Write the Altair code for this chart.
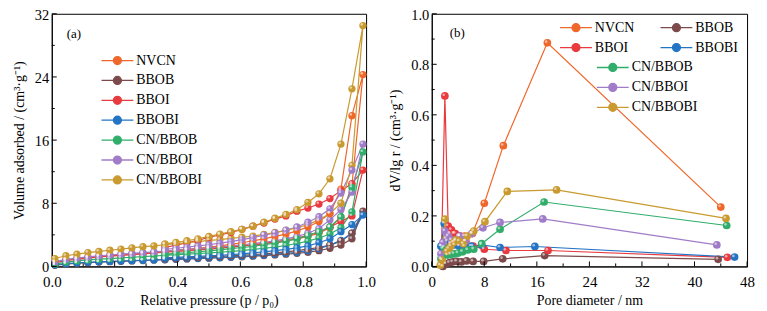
import altair as alt
import pandas as pd

FONT = "Liberation Serif"

series = ["NVCN", "BBOB", "BBOI", "BBOBI", "CN/BBOB", "CN/BBOI", "CN/BBOBI"]
colors = ["#F0672B", "#7C4A4B", "#E83A3F", "#2474C4", "#30AD6B", "#A07CC8", "#C99A30"]

# ---------------- (a) N2 isotherms ----------------
p_ads = [0.01, 0.045, 0.08, 0.115, 0.15, 0.185, 0.22, 0.255, 0.29, 0.325, 0.36, 0.395,
         0.43, 0.465, 0.5, 0.535, 0.57, 0.605, 0.64, 0.675, 0.71, 0.745, 0.78, 0.815,
         0.85, 0.885, 0.92, 0.955, 0.99]
p_des = [0.955, 0.92, 0.885, 0.85, 0.815, 0.78, 0.745, 0.71, 0.675, 0.64, 0.605, 0.57,
         0.535, 0.5, 0.465, 0.43, 0.395, 0.36]

ads_NVCN = [0.55, 0.8, 0.95, 1.1, 1.25, 1.35, 1.45, 1.55, 1.65, 1.75, 1.85, 1.95, 2.05, 2.15,
            2.25, 2.35, 2.5, 2.6, 2.75, 2.9, 3.05, 3.25, 3.5, 3.8, 4.2, 4.9, 6.2, 10.3, 24.3]
des_NVCN = [19.1, 9.8, 6.7, 5.7, 5.0, 4.5, 4.1, 3.8, 3.5, 3.25, 3.0, 2.8, 2.6, 2.45, 2.3, 2.15,
            2.05, 1.95]
ads_BBOB = [0.15, 0.3, 0.4, 0.48, 0.55, 0.6, 0.65, 0.7, 0.75, 0.8, 0.85, 0.9, 0.95, 1.0, 1.05,
            1.1, 1.15, 1.22, 1.3, 1.38, 1.46, 1.55, 1.66, 1.8, 2.0, 2.3, 2.7, 3.5, 7.0]
des_BBOB = [4.2, 3.2, 2.7, 2.4, 2.2, 2.0, 1.85, 1.72, 1.6, 1.5, 1.42, 1.34, 1.27, 1.2, 1.14,
            1.08, 1.02, 0.97]
ads_BBOI = [0.45, 0.75, 0.9, 1.05, 1.2, 1.3, 1.4, 1.5, 1.6, 1.7, 1.8, 1.9, 2.0, 2.1, 2.2, 2.3,
            2.45, 2.6, 2.75, 2.9, 3.1, 3.35, 3.6, 3.95, 4.4, 5.0, 5.7, 6.4, 12.2]
des_BBOI = [10.5, 9.6, 8.6, 7.9, 7.4, 7.0, 6.4, 6.0, 5.5, 5.1, 4.7, 4.3, 4.0, 3.7, 3.3, 3.0,
            2.7, 2.4]
ads_BBOBI = [0.2, 0.35, 0.45, 0.52, 0.58, 0.63, 0.68, 0.73, 0.78, 0.83, 0.88, 0.93, 0.98, 1.03,
             1.08, 1.13, 1.2, 1.27, 1.35, 1.45, 1.55, 1.67, 1.8, 2.0, 2.25, 2.7, 3.3, 4.2, 6.5]
des_BBOBI = [5.3, 4.4, 3.5, 3.0, 2.6, 2.35, 2.15, 2.0, 1.85, 1.72, 1.6, 1.5, 1.42, 1.34, 1.27,
             1.2, 1.14, 1.08]
ads_CNBBOB = [0.3, 0.55, 0.7, 0.82, 0.92, 1.0, 1.08, 1.16, 1.24, 1.32, 1.4, 1.48, 1.56, 1.64,
              1.72, 1.8, 1.9, 2.0, 2.15, 2.3, 2.45, 2.65, 2.9, 3.2, 3.6, 4.1, 4.9, 6.9, 14.5]
des_CNBBOB = [10.0, 6.3, 5.0, 4.4, 3.9, 3.5, 3.2, 2.95, 2.75, 2.55, 2.4, 2.25, 2.1, 1.98, 1.86,
              1.75, 1.65, 1.55]
ads_CNBBOI = [0.6, 0.9, 1.05, 1.2, 1.35, 1.45, 1.55, 1.65, 1.75, 1.85, 1.95, 2.05, 2.15, 2.25,
              2.35, 2.45, 2.6, 2.75, 2.9, 3.05, 3.25, 3.5, 3.8, 4.2, 4.8, 5.9, 7.2, 9.4, 15.5]
des_CNBBOI = [12.2, 9.3, 7.3, 6.3, 5.6, 5.0, 4.6, 4.25, 3.95, 3.65, 3.4, 3.15, 2.95, 2.75, 2.6,
              2.45, 2.3, 2.15]
ads_CNBBOBI = [1.0, 1.35, 1.55, 1.75, 1.9, 2.05, 2.2, 2.35, 2.5, 2.6, 2.75, 2.9, 3.0, 3.15,
               3.3, 3.4, 3.55, 3.7, 3.85, 4.05, 4.3, 4.55, 4.9, 5.3, 5.9, 6.7, 8.0, 12.8, 30.5]
des_CNBBOBI = [22.5, 15.5, 11.1, 9.2, 8.1, 7.2, 6.6, 6.1, 5.6, 5.1, 4.7, 4.4, 4.1, 3.8, 3.5,
               3.25, 3.05, 2.85]

ads_all = [ads_NVCN, ads_BBOB, ads_BBOI, ads_BBOBI, ads_CNBBOB, ads_CNBBOI, ads_CNBBOBI]
des_all = [des_NVCN, des_BBOB, des_BBOI, des_BBOBI, des_CNBBOB, des_CNBBOI, des_CNBBOBI]

rows_a = []
for s, a, d in zip(series, ads_all, des_all):
    k = 0
    for p, v in zip(p_ads, a):
        rows_a.append({"series": s, "p": p, "v": v, "ord": k}); k += 1
    for p, v in zip(p_des, d):
        rows_a.append({"series": s, "p": p, "v": v, "ord": k}); k += 1
df_a = pd.DataFrame(rows_a)

# ---------------- (b) pore size distribution ----------------
d_NVCN = [1.7, 2.2, 2.8, 3.4, 4.1, 5.0, 6.2, 8.0, 10.9, 17.6, 44.0]
v_NVCN = [0.07, 0.11, 0.13, 0.13, 0.12, 0.12, 0.13, 0.25, 0.478, 0.885, 0.235]
d_BBOB = [1.7, 2.2, 2.7, 3.2, 3.8, 4.5, 5.3, 6.3, 7.9, 10.8, 17.2, 43.6]
v_BBOB = [0.0, 0.01, 0.015, 0.018, 0.02, 0.018, 0.022, 0.02, 0.02, 0.03, 0.043, 0.028]
d_BBOI = [1.5, 2.0, 2.5, 3.0, 3.6, 4.3, 5.2, 6.3, 8.0, 11.3, 17.7, 45.0]
v_BBOI = [0.08, 0.675, 0.16, 0.145, 0.13, 0.12, 0.1, 0.08, 0.068, 0.063, 0.063, 0.036]
d_BBOBI = [1.4, 1.9, 2.4, 2.9, 3.5, 4.2, 5.0, 6.0, 7.6, 10.4, 15.7, 46.1]
v_BBOBI = [0.08, 0.17, 0.1, 0.09, 0.085, 0.08, 0.08, 0.08, 0.085, 0.075, 0.079, 0.037]
d_CNBBOB = [1.4, 1.9, 2.4, 2.9, 3.4, 4.0, 4.7, 5.5, 6.4, 7.6, 10.4, 17.1, 44.9]
v_CNBBOB = [0.03, 0.075, 0.045, 0.048, 0.05, 0.053, 0.058, 0.065, 0.068, 0.09, 0.147, 0.255, 0.162]
d_CNBBOI = [1.4, 1.7, 2.0, 2.5, 3.0, 3.6, 4.3, 5.1, 6.1, 7.8, 10.4, 16.9, 43.4]
v_CNBBOI = [0.05, 0.095, 0.14, 0.12, 0.105, 0.1, 0.12, 0.1, 0.13, 0.153, 0.174, 0.188, 0.085]
d_CNBBOBI = [1.3, 1.6, 2.0, 2.3, 2.6, 2.9, 3.3, 3.7, 4.2, 4.8, 5.4, 6.4, 8.1, 11.5, 19.0, 44.8]
v_CNBBOBI = [0.005, 0.025, 0.187, 0.06, 0.07, 0.08, 0.095, 0.105, 0.1, 0.09, 0.12, 0.14, 0.177,
             0.297, 0.303, 0.19]

d_all = [d_NVCN, d_BBOB, d_BBOI, d_BBOBI, d_CNBBOB, d_CNBBOI, d_CNBBOBI]
v_all = [v_NVCN, v_BBOB, v_BBOI, v_BBOBI, v_CNBBOB, v_CNBBOI, v_CNBBOBI]

rows_b = []
for s, dd, vv in zip(series, d_all, v_all):
    for k, (d, v) in enumerate(zip(dd, vv)):
        rows_b.append({"series": s, "d": d, "v": v, "ord": k})
df_b = pd.DataFrame(rows_b)
# legend of (b): first block in two columns (filled column by column), second block in one
group1 = ["NVCN", "BBOI", "BBOB", "BBOBI"]
group1_colors = [colors[series.index(s)] for s in group1]
group2 = series[4:]
group2_colors = colors[4:]
df_b1 = df_b[df_b.series.isin(group1)].rename(columns={"series": "s1"})
df_b2 = df_b[df_b.series.isin(group2)].rename(columns={"series": "s2"})

# axis tick values
xa_major = [0.0, 0.2, 0.4, 0.6, 0.8, 1.0]
xa_minor = [0.1, 0.3, 0.5, 0.7, 0.9]
ya_major = [0, 8, 16, 24, 32]
ya_minor = [4, 12, 20, 28]
xb_major = [0, 8, 16, 24, 32, 40, 48]
xb_minor = [4, 12, 20, 28, 36, 44]
yb_major = [0.0, 0.2, 0.4, 0.6, 0.8, 1.0]
yb_minor = [0.1, 0.3, 0.5, 0.7, 0.9]

W_A, W_B, H = 316, 317, 254
PT_SIZE = 54
LEG_PATH = "M-3.2,0H3.2M-0.8,0A0.8,0.8 0 1,1 0.8,0A0.8,0.8 0 1,1 -0.8,0Z"


def axis_x(title, fmt, vals):
    return alt.Axis(title=title, values=vals, format=fmt, ticks=False, tickSize=0, grid=False,
                    labelFlush=False, labelPadding=8.5, titlePadding=4, labelFontSize=15,
                    domainColor="black")


def axis_y(title, fmt, vals):
    return alt.Axis(title=title, values=vals, format=fmt, ticks=False, tickSize=0, grid=False,
                    labelPadding=3, titlePadding=8, labelOffset=1.5, labelFontSize=14.5,
                    domainColor="black")


def inner_ticks(xs, ys, ax, ay, xmaj, xmin, ymaj, ymin, h):
    parts = []
    for vals, ln in ((xmaj, 5), (xmin, 3)):
        parts.append(alt.Chart(pd.DataFrame({"t": vals})).mark_rule(color="black", strokeWidth=1)
                     .encode(x=alt.X("t:Q", scale=xs, axis=ax), y=alt.value(h), y2=alt.value(h - ln)))
    for vals, ln in ((ymaj, 5), (ymin, 3)):
        parts.append(alt.Chart(pd.DataFrame({"t": vals})).mark_rule(color="black", strokeWidth=1)
                     .encode(y=alt.Y("t:Q", scale=ys, axis=ay), x=alt.value(0), x2=alt.value(ln)))
    return parts


def legend(x, y, cols=1):
    return alt.Legend(orient="none", legendX=x, legendY=y, title=None, symbolType=LEG_PATH,
                      symbolSize=100, symbolStrokeWidth=1.3, labelOffset=12, rowPadding=6,
                      columns=cols, columnPadding=23, labelFont=FONT, labelFontSize=14,
                      labelColor="black")


def highlight(base):
    # small bright spot giving the markers their glossy look
    return base.mark_circle(size=7, color="white", opacity=0.55, xOffset=-1.2, yOffset=-1.2)


# ---- panel (a)
xs_a = alt.Scale(domain=[0, 1], nice=False, zero=False)
ys_a = alt.Scale(domain=[0, 32], nice=False, zero=False)
ax_ax = axis_x("Relative pressure (p / p₀)", ".1f", xa_major)
ax_ay = axis_y("Volume adsorbed / (cm³·g⁻¹)", "d", ya_major)
col_a = alt.Color("series:N", scale=alt.Scale(domain=series, range=colors),
                  legend=legend(59, 40))
base_a = alt.Chart(df_a).encode(
    x=alt.X("p:Q", scale=xs_a, axis=ax_ax),
    y=alt.Y("v:Q", scale=ys_a, axis=ax_ay),
    color=col_a, order="ord:Q", detail="series:N")
lines_a = base_a.mark_line(strokeWidth=1.2)
pts_a = base_a.mark_circle(size=PT_SIZE, opacity=1)
hl_a = highlight(alt.Chart(df_a).encode(x=alt.X("p:Q", scale=xs_a, axis=ax_ax),
                                        y=alt.Y("v:Q", scale=ys_a, axis=ax_ay)))
lab_a = alt.Chart(pd.DataFrame({"t": ["(a)"]})).mark_text(
    align="left", baseline="middle", font=FONT, fontSize=13, color="black").encode(
    x=alt.value(15), y=alt.value(20), text="t:N")
chart_a = alt.layer(lines_a, pts_a, hl_a,
                    *inner_ticks(xs_a, ys_a, ax_ax, ax_ay, xa_major, xa_minor, ya_major, ya_minor, H),
                    lab_a).properties(width=W_A, height=H)

# ---- panel (b)
xs_b = alt.Scale(domain=[0, 48], nice=False, zero=False)
ys_b = alt.Scale(domain=[0, 1], nice=False, zero=False)
ax_bx = axis_x("Pore diameter / nm", "d", xb_major)
ax_by = axis_y("dV/lg r / (cm³·g⁻¹)", ".1f", yb_major)
sc1 = alt.Scale(domain=group1, range=group1_colors)
sc2 = alt.Scale(domain=group2, range=group2_colors)
leg1 = legend(138, 7, 2)
leg2 = legend(175, 47)
b1 = alt.Chart(df_b1).encode(
    x=alt.X("d:Q", scale=xs_b, axis=ax_bx), y=alt.Y("v:Q", scale=ys_b, axis=ax_by),
    color=alt.Color("s1:N", scale=sc1, legend=leg1), order="ord:Q", detail="s1:N")
b2 = alt.Chart(df_b2).encode(
    x=alt.X("d:Q", scale=xs_b, axis=ax_bx), y=alt.Y("v:Q", scale=ys_b, axis=ax_by),
    order="ord:Q", detail="s2:N")
lines_b1 = b1.mark_line(strokeWidth=1.2)
pts_b1 = b1.mark_circle(size=PT_SIZE + 6, opacity=1)
lines_b2 = b2.mark_line(strokeWidth=1.2).encode(stroke=alt.Stroke("s2:N", scale=sc2, legend=leg2))
pts_b2 = b2.mark_circle(size=PT_SIZE + 6, opacity=1).encode(fill=alt.Fill("s2:N", scale=sc2, legend=leg2))
hl_b = highlight(alt.Chart(df_b).encode(x=alt.X("d:Q", scale=xs_b, axis=ax_bx),
                                        y=alt.Y("v:Q", scale=ys_b, axis=ax_by)))
lab_b = alt.Chart(pd.DataFrame({"t": ["(b)"]})).mark_text(
    align="left", baseline="middle", font=FONT, fontSize=13, color="black").encode(
    x=alt.value(18), y=alt.value(19), text="t:N")
chart_b = alt.layer(lines_b1, pts_b1, lines_b2, pts_b2, hl_b,
                    *inner_ticks(xs_b, ys_b, ax_bx, ax_by, xb_major, xb_minor, yb_major, yb_minor, H),
                    lab_b).properties(width=W_B, height=H)

chart = alt.hconcat(chart_a, chart_b, spacing=12).resolve_scale(
    color="independent", fill="independent", stroke="independent").resolve_legend(
    color="independent", fill="independent", stroke="independent").properties(
    padding={"left": 4, "top": -2, "right": 4, "bottom": 4}
).configure_view(stroke="black", strokeWidth=1).configure_axis(
    labelFont=FONT, titleFont=FONT, titleFontSize=14, labelColor="black",
    titleColor="black", titleFontWeight="normal", domainWidth=1
).configure_text(font=FONT)

chart.save("out.html", embed_options={"renderer": "svg", "actions": False})
